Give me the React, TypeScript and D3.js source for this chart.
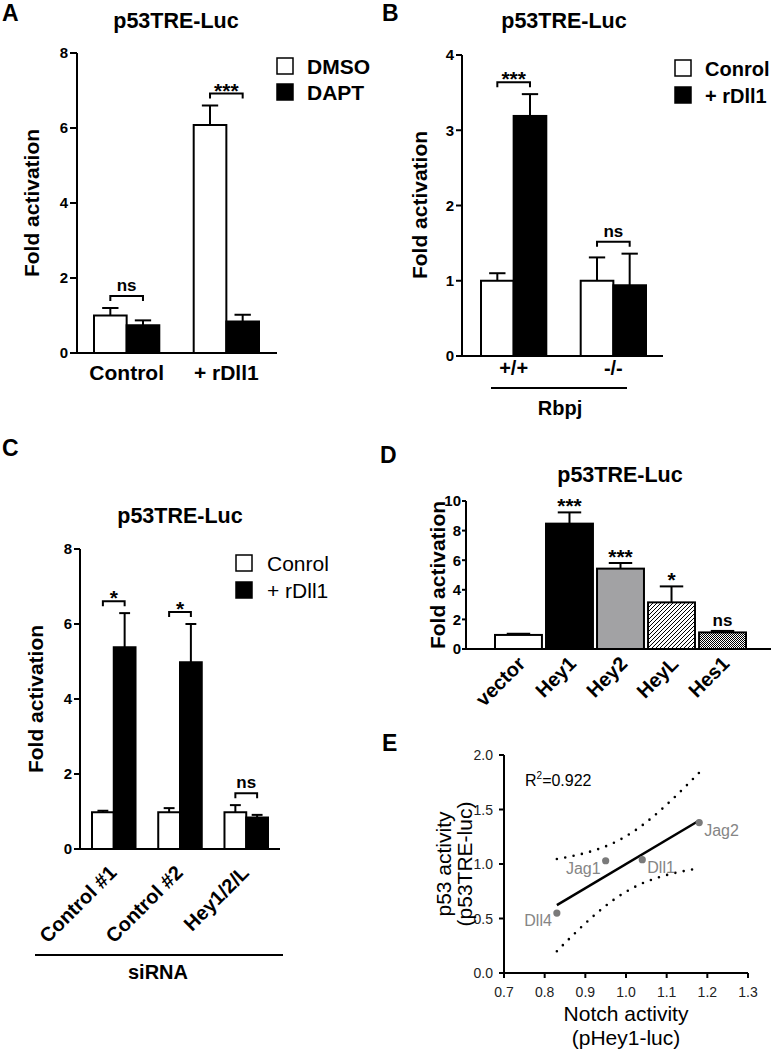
import React from 'react';
import * as d3 from 'd3';

const FONT = "'Liberation Sans', Arial, Helvetica, sans-serif";

// ---------- Panel A data ----------
const aGroups = ['Control', '+ rDll1'];
const aSeries = ['DMSO', 'DAPT'];
const aMeans = [[1.0, 0.74], [6.08, 0.84]];
const aErrs = [[0.2, 0.13], [0.52, 0.18]];
const aSig = ['ns', '***'];
const aTicks = [0, 2, 4, 6, 8];

// ---------- Panel B data ----------
const bGroups = ['+/+', '-/-'];
const bSeries = ['Conrol', '+ rDll1'];
const bMeans = [[1.0, 3.19], [1.0, 0.94]];
const bErrs = [[0.1, 0.29], [0.31, 0.42]];
const bSig = ['***', 'ns'];
const bTicks = [0, 1, 2, 3, 4];
const bGroupTitle = 'Rbpj';

// ---------- Panel C data ----------
const cGroups = ['Control #1', 'Control #2', 'Hey1/2/L'];
const cSeries = ['Conrol', '+ rDll1'];
const cMeans = [[0.98, 5.38], [0.98, 4.98], [0.98, 0.84]];
const cErrs = [[0.04, 0.91], [0.11, 1.02], [0.19, 0.07]];
const cSig = ['*', '*', 'ns'];
const cTicks = [0, 2, 4, 6, 8];
const cGroupTitle = 'siRNA';

// ---------- Panel D data ----------
const dCats = ['vector', 'Hey1', 'Hey2', 'HeyL', 'Hes1'];
const dMeans = [0.95, 8.47, 5.43, 3.15, 1.12];
const dErrs = [0.08, 0.76, 0.38, 1.08, 0.1];
const dSig = ['', '***', '***', '*', 'ns'];
const dTicks = [0, 2, 4, 6, 8, 10];

// ---------- Panel E data ----------
const eLigands = ['Dll4', 'Jag1', 'Dll1', 'Jag2'];
const eNotch = [0.83, 0.95, 1.04, 1.18];
const eP53 = [0.55, 1.03, 1.04, 1.38];
const eXTicks = [0.7, 0.8, 0.9, 1.0, 1.1, 1.2, 1.3];
const eYTicks = [0, 0.5, 1.0, 1.5, 2.0];
const eR2 = '0.922';

// styles
const seriesFills = ['#ffffff', '#000000'];
const dFills = ['#ffffff', '#000000', '#a2a2a4', 'url(#hatchD)', 'url(#checkD)'];
const eLabelSide = ['left', 'left', 'right', 'right'];

const TITLE = 'p53TRE-Luc';
const YLAB = 'Fold activation';

type GBCfg = {
  axisX0: number; axisX1: number; y0: number; yTop: number; yMax: number;
  barX0: number; barX1: number; padInner: number;
  groups: string[]; means: number[][]; errs: number[][]; sig: string[];
  ticks: number[]; tickLen: number; labelGap: number;
};

function groupedScales(c: GBCfg) {
  const y = d3.scaleLinear().domain([0, c.yMax]).range([c.y0, c.yTop]);
  const gx = d3.scaleBand<string>().domain(c.groups).range([c.barX0, c.barX1]).paddingInner(c.padInner).paddingOuter(0);
  const sx = d3.scaleBand<number>().domain(d3.range(c.means[0].length)).range([0, gx.bandwidth()]);
  return { y, gx, sx };
}

function YAxis({ x0, y, ticks, tickLen, gap, fontSize, yTop, y0 }: any) {
  return (
    <g>
      <line x1={x0} x2={x0} y1={yTop} y2={y0} stroke="#000" strokeWidth={2} />
      {ticks.map((t: number) => (
        <g key={t}>
          <line x1={x0 - tickLen} x2={x0} y1={y(t)} y2={y(t)} stroke="#000" strokeWidth={2} />
          <text x={x0 - tickLen - gap} y={y(t) + fontSize * 0.36} textAnchor="end" fontSize={fontSize} fontWeight="bold">{t}</text>
        </g>
      ))}
    </g>
  );
}

function GroupedBars({ c }: { c: GBCfg }) {
  const { y, gx, sx } = groupedScales(c);
  const bw = sx.bandwidth();
  return (
    <g>
      {c.groups.map((g, gi) => (
        <g key={g}>
          {c.means[gi].map((m, si) => {
            const x = (gx(g) as number) + (sx(si) as number);
            return <rect key={si} x={x} y={y(m)} width={bw} height={y(0) - y(m)} fill={seriesFills[si]} stroke="#000" strokeWidth={2} />;
          })}
          {c.means[gi].map((m, si) => {
            const cx = (gx(g) as number) + (sx(si) as number) + bw / 2;
            const top = y(m + c.errs[gi][si]);
            return (
              <g key={'e' + si}>
                <line x1={cx} x2={cx} y1={y(m)} y2={top} stroke="#000" strokeWidth={2} />
                <line x1={cx - bw / 4} x2={cx + bw / 4} y1={top} y2={top} stroke="#000" strokeWidth={2} />
              </g>
            );
          })}
          {(() => {
            const xa = (gx(g) as number) + (sx(0) as number) + bw / 2;
            const xb = (gx(g) as number) + (sx(1) as number) + bw / 2;
            const top = d3.min(c.means[gi].map((m, si) => y(m + c.errs[gi][si]))) as number;
            const yb = top - 12;
            const lab = c.sig[gi];
            const isStar = lab.startsWith('*');
            return (
              <g>
                <path d={`M${xa},${yb + 5}V${yb}H${xb}V${yb + 5}`} fill="none" stroke="#000" strokeWidth={2} />
                <text x={(xa + xb) / 2} y={isStar ? yb + 4 : yb - 5} textAnchor="middle" fontWeight="bold" fontSize={isStar ? 21 : 17}>{lab}</text>
              </g>
            );
          })()}
        </g>
      ))}
      <line x1={c.axisX0} x2={c.axisX1} y1={c.y0} y2={c.y0} stroke="#000" strokeWidth={2} />
      <YAxis x0={c.axisX0} y={y} ticks={c.ticks} tickLen={c.tickLen} gap={c.labelGap} fontSize={15} yTop={c.yTop} y0={c.y0} />
    </g>
  );
}

function Legend({ x, y, labels, bold, fontSize, rowGap, textDx }: any) {
  return (
    <g>
      {labels.map((l: string, i: number) => (
        <g key={l}>
          <rect x={x} y={y + i * rowGap} width={16} height={16} fill={seriesFills[i]} stroke="#000" strokeWidth={1.5} />
          <text x={x + textDx} y={y + i * rowGap + 16} fontSize={fontSize} fontWeight={bold ? 'bold' : 'normal'}>{l}</text>
        </g>
      ))}
    </g>
  );
}

export default function App() {
  const A: GBCfg = {
    axisX0: 77, axisX1: 277, y0: 353, yTop: 53, yMax: 8,
    barX0: 94, barX1: 259, padInner: 0.345,
    groups: aGroups, means: aMeans, errs: aErrs, sig: aSig, ticks: aTicks, tickLen: 7, labelGap: 2,
  };
  const B: GBCfg = {
    axisX0: 462, axisX1: 663, y0: 356, yTop: 55, yMax: 4,
    barX0: 481, barX1: 646, padInner: 0.345,
    groups: bGroups, means: bMeans, errs: bErrs, sig: bSig, ticks: bTicks, tickLen: 6, labelGap: 2,
  };
  const C: GBCfg = {
    axisX0: 80, axisX1: 280, y0: 849, yTop: 549, yMax: 8,
    barX0: 92, barX1: 268, padInner: 0.343,
    groups: cGroups, means: cMeans, errs: cErrs, sig: cSig, ticks: cTicks, tickLen: 6, labelGap: 2,
  };
  const sA = groupedScales(A);
  const sB = groupedScales(B);
  const sC = groupedScales(C);

  // Panel D
  const dY = d3.scaleLinear().domain([0, 10]).range([649, 501]);
  const dX = d3.scaleBand<string>().domain(dCats).range([495, 746]).paddingInner(0.08).paddingOuter(0);
  const dBw = dX.bandwidth();

  // Panel E
  const eX = d3.scaleLinear().domain([0.7, 1.3]).range([504, 748]);
  const eY = d3.scaleLinear().domain([0, 2]).range([973, 755]);
  const n = eNotch.length;
  const mx = d3.mean(eNotch) as number;
  const my = d3.mean(eP53) as number;
  const sxx = d3.sum(eNotch, (v) => (v - mx) ** 2);
  const sxy = d3.sum(eNotch.map((v, i) => (v - mx) * (eP53[i] - my)));
  const slope = sxy / sxx;
  const icpt = my - slope * mx;
  const sse = d3.sum(eNotch.map((v, i) => (eP53[i] - (icpt + slope * v)) ** 2));
  const se = Math.sqrt(sse / (n - 2));
  const T_CRIT = 4.303; // t(0.975, df = 2) for the 95% confidence band
  const xMin = d3.min(eNotch) as number;
  const xMax = d3.max(eNotch) as number;
  const bandXs = d3.ticks(xMin, xMax, 40).concat([xMax]);
  const half = (x: number) => T_CRIT * se * Math.sqrt(1 / n + (x - mx) ** 2 / sxx);
  const lineGen = d3.line<number[]>().x((d) => eX(d[0])).y((d) => eY(d[1]));
  const upper = lineGen(bandXs.map((x) => [x, icpt + slope * x + half(x)])) as string;
  const lower = lineGen(bandXs.map((x) => [x, icpt + slope * x - half(x)])) as string;
  const fit = lineGen([[xMin, icpt + slope * xMin], [xMax, icpt + slope * xMax]]) as string;

  return (
    <svg width={773} height={1050} style={{ position: 'absolute', left: 0, top: 0, background: '#fff' }} fontFamily={FONT}>
      <defs>
        <pattern id="hatchD" patternUnits="userSpaceOnUse" width={4} height={4}>
          <rect width={4} height={4} fill="#fff" />
          <path d="M-1,1 l2,-2 M0,4 l4,-4 M3,5 l2,-2" stroke="#000" strokeWidth={1} />
        </pattern>
        <pattern id="checkD" patternUnits="userSpaceOnUse" width={2} height={2}>
          <rect width={2} height={2} fill="#fff" />
          <rect x={0} y={0} width={1} height={1} fill="#000" />
          <rect x={1} y={1} width={1} height={1} fill="#000" />
        </pattern>
      </defs>
      <rect width={773} height={1050} fill="#fff" />

      {/* ---------- Panel A ---------- */}
      <text x={2} y={21} fontSize={23} fontWeight="bold">A</text>
      <text x={176} y={28} fontSize={21.5} fontWeight="bold" textAnchor="middle">{TITLE}</text>
      <text transform="translate(39,203) rotate(-90)" fontSize={21} fontWeight="bold" textAnchor="middle">{YLAB}</text>
      <GroupedBars c={A} />
      {aGroups.map((g) => (
        <text key={g} x={(sA.gx(g) as number) + sA.gx.bandwidth() / 2} y={380} fontSize={21} fontWeight="bold" textAnchor="middle">{g}</text>
      ))}
      <Legend x={277} y={58} labels={aSeries} bold fontSize={21} rowGap={26} textDx={30} />

      {/* ---------- Panel B ---------- */}
      <text x={382} y={21} fontSize={23} fontWeight="bold">B</text>
      <text x={564} y={28} fontSize={21.5} fontWeight="bold" textAnchor="middle">{TITLE}</text>
      <text transform="translate(427,205) rotate(-90)" fontSize={21} fontWeight="bold" textAnchor="middle">{YLAB}</text>
      <GroupedBars c={B} />
      {bGroups.map((g) => (
        <text key={g} x={(sB.gx(g) as number) + sB.gx.bandwidth() / 2} y={375} fontSize={20} fontWeight="bold" textAnchor="middle">{g}</text>
      ))}
      <line x1={491} x2={627} y1={388} y2={388} stroke="#000" strokeWidth={2} />
      <text x={560} y={415} fontSize={20} fontWeight="bold" textAnchor="middle">{bGroupTitle}</text>
      <Legend x={675} y={60} labels={bSeries} bold fontSize={20} rowGap={27} textDx={30} />

      {/* ---------- Panel C ---------- */}
      <text x={2} y={456} fontSize={23} fontWeight="bold">C</text>
      <text x={180} y={523} fontSize={21.5} fontWeight="bold" textAnchor="middle">{TITLE}</text>
      <text transform="translate(43,699) rotate(-90)" fontSize={21} fontWeight="bold" textAnchor="middle">{YLAB}</text>
      <GroupedBars c={C} />
      {cGroups.map((g) => {
        const cx = (sC.gx(g) as number) + sC.gx.bandwidth() / 2;
        return (
          <text key={g} transform={`translate(${cx + 4},${849 + 25}) rotate(-45)`} fontSize={20} fontWeight="bold" textAnchor="end">{g}</text>
        );
      })}
      <line x1={35} x2={283} y1={955} y2={955} stroke="#000" strokeWidth={2} />
      <text x={158} y={979} fontSize={20} fontWeight="bold" textAnchor="middle">{cGroupTitle}</text>
      <Legend x={236} y={555} labels={cSeries} bold={false} fontSize={21} rowGap={27} textDx={31} />

      {/* ---------- Panel D ---------- */}
      <text x={380} y={463} fontSize={23} fontWeight="bold">D</text>
      <text x={620} y={482} fontSize={21.5} fontWeight="bold" textAnchor="middle">{TITLE}</text>
      <text transform="translate(445,575) rotate(-90)" fontSize={21} fontWeight="bold" textAnchor="middle">{YLAB}</text>
      {dCats.map((c, i) => {
        const x = dX(c) as number;
        const top = dY(dMeans[i] + dErrs[i]);
        const cx = x + dBw / 2;
        const lab = dSig[i];
        const isStar = lab.startsWith('*');
        return (
          <g key={c}>
            <rect x={x} y={dY(dMeans[i])} width={dBw} height={dY(0) - dY(dMeans[i])} fill={dFills[i]} stroke="#000" strokeWidth={2} />
            <line x1={cx} x2={cx} y1={dY(dMeans[i])} y2={top} stroke="#000" strokeWidth={2} />
            <line x1={cx - dBw / 4} x2={cx + dBw / 4} y1={top} y2={top} stroke="#000" strokeWidth={2} />
            {lab && (
              <text x={cx} y={isStar ? top + 1 : top - 5} textAnchor="middle" fontWeight="bold" fontSize={isStar ? 21 : 17}>{lab}</text>
            )}
            <text transform={`translate(${cx + 8},${649 + 16}) rotate(-45)`} fontSize={20} fontWeight="bold" textAnchor="end">{c}</text>
          </g>
        );
      })}
      <line x1={466} x2={771} y1={649} y2={649} stroke="#000" strokeWidth={2} />
      <YAxis x0={466} y={dY} ticks={dTicks} tickLen={4} gap={1} fontSize={15} yTop={501} y0={649} />

      {/* ---------- Panel E ---------- */}
      <text x={382} y={751} fontSize={23} fontWeight="bold">E</text>
      <line x1={504} x2={504} y1={eY(2)} y2={eY(0)} stroke="#000" strokeWidth={2} />
      <line x1={504} x2={748} y1={eY(0)} y2={eY(0)} stroke="#000" strokeWidth={2} />
      {eYTicks.map((t) => (
        <g key={'ey' + t}>
          <line x1={499} x2={504} y1={eY(t)} y2={eY(t)} stroke="#000" strokeWidth={2} />
          <text x={493} y={eY(t) + 5} fontSize={14} textAnchor="end" fill="#222">{d3.format('.1f')(t)}</text>
        </g>
      ))}
      {eXTicks.map((t) => (
        <g key={'ex' + t}>
          <line x1={eX(t)} x2={eX(t)} y1={973} y2={978} stroke="#000" strokeWidth={2} />
          <text x={eX(t)} y={997} fontSize={14} textAnchor="middle" fill="#222">{d3.format('.1f')(t)}</text>
        </g>
      ))}
      <path d={upper} fill="none" stroke="#000" strokeWidth={2.6} strokeDasharray="0 8.5" strokeLinecap="round" />
      <path d={lower} fill="none" stroke="#000" strokeWidth={2.6} strokeDasharray="0 8.5" strokeLinecap="round" />
      <path d={fit} fill="none" stroke="#000" strokeWidth={2.5} />
      {eLigands.map((l, i) => {
        const px = eX(eNotch[i]);
        const py = eY(eP53[i]);
        const left = eLabelSide[i] === 'left';
        return (
          <g key={l}>
            <circle cx={px} cy={py} r={3.6} fill="#7a7a7a" />
            <text x={left ? px - 5 : px + 5} y={py + 13} fontSize={16} fill="#858585" textAnchor={left ? 'end' : 'start'}>{l}</text>
          </g>
        );
      })}
      <text x={525} y={786} fontSize={16}>R<tspan fontSize={10} dy={-7}>2</tspan><tspan dy={7}>={eR2}</tspan></text>
      <text transform="translate(451,864) rotate(-90)" fontSize={21} textAnchor="middle">p53 activity</text>
      <text transform="translate(472,864) rotate(-90)" fontSize={21} textAnchor="middle">(p53TRE-luc)</text>
      <text x={626} y={1021} fontSize={21} textAnchor="middle">Notch activity</text>
      <text x={626} y={1045} fontSize={21} textAnchor="middle">(pHey1-luc)</text>
    </svg>
  );
}
